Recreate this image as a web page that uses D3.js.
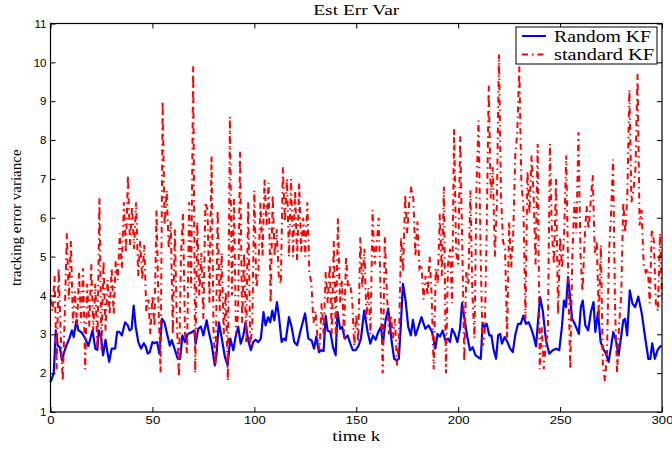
<!DOCTYPE html>
<html><head><meta charset="utf-8">
<script src="https://cdn.jsdelivr.net/npm/d3@7"></script>
<style>body{margin:0;background:#fff}</style>
</head><body><svg id="c" width="672" height="451"></svg>
<script>
const chartTitle = "Est Err Var";
const xLabel = "time k";
const yLabel = "tracking error variance";
const seriesNames = ["Random KF", "standard KF"];
const xTicks = [0, 50, 100, 150, 200, 250, 300];
const yTicks = [1, 2, 3, 4, 5, 6, 7, 8, 9, 10, 11];

// Random KF: time positions and values
const randomKF_t = [0,1.6,2.6,3.6,4.6,5.6,6.5,7.7,9.3,10.5,11.4,12.7,13.7,15,16.7,18.6,20.6,22,23,23.7,24.8,25.8,27,27.8,28.8,30,31.7,32.7,33.8,35,36.6,37.9,38.8,39.8,40.8,41.8,43.1,44.4,45.8,46.7,47.7,48.7,50,51,52.3,53.4,54.7,55.9,57.2,58.5,59.5,
61.1,62.4,63.6,64.7,66,67.3,69.2,70.5,71.2,72.5,73.8,75,76.6,77.7,79,80.6,81.5,82.6,83.9,85.6,86.9,88.2,89.7,90.8,92.1,93.3,94.6,95.7,97,98.3,99.5,100.6,101.9,103.2,104.5,105.5,106.8,107.8,108.8,109.8,111.1,112.1,113.4,114.4,115.4,117,118.3,119.6,
121,122.7,124.9,126.5,128.1,129.3,130.4,131.7,133,134,135,135.9,137.3,138.6,139.9,140.8,142.1,143.1,144.4,145.8,147.1,148.3,149.7,151,152.3,153.9,155.6,156.9,158.2,159.5,160.8,162.1,163.1,164.4,165.7,167.3,168.6,169.9,170.9,171.9,172.9,174.2,175.5,176.8,177.8,179.1,180.7,182,
183.9,185.5,187.2,188.8,189.9,191.1,192.4,193.7,195,196,197,198.3,199.6,200.9,201.9,203.2,204.5,205.8,207.1,208.5,209.8,211.1,212,213,214,215.3,216.3,217.3,218.6,219.6,220.6,221.5,222.8,224.2,225.5,226.8,228.1,229.4,230.7,232,233.3,234.6,235.9,236.9,238.2,239.2,240.2,241.5,
243.1,244.7,246.4,248,249.6,250.9,251.9,252.9,253.9,254.9,255.9,257.2,259.2,260.2,261.1,262.4,263.8,265.1,266.4,267.3,268.6,269.9,271.2,272.5,273.8,275.1,276.1,277.4,278.7,279.7,281,281.9,282.9,284.2,285.5,286.8,288.4,290.1,291.7,293.3,294.3,295.2,296.5,297.8,299.1,300];
const randomKF = [1.77,2.0,3.1,2.7,2.67,2.33,2.5,2.7,2.9,3.1,2.93,3.36,3.1,3.06,2.93,2.7,3.1,2.63,2.6,3.1,2.93,2.46,2.86,2.58,2.29,2.63,2.63,3.06,3.06,2.97,3.31,3.23,3.1,3.14,3.74,3.19,2.8,2.63,2.77,2.69,2.5,2.54,2.8,2.77,2.8,2.5,3.4,3.31,3.01,2.71,2.85,
2.59,2.37,2.37,2.97,2.8,3.01,3.05,3.1,2.76,3.14,3.2,2.97,3.36,3.05,2.76,2.2,2.5,3.31,2.93,2.41,2.2,2.89,2.59,2.93,3.19,2.76,2.97,3.31,2.84,2.59,2.8,2.86,2.8,2.89,3.57,3.23,3.44,3.31,3.61,3.36,3.83,3.44,2.8,2.89,2.84,3.44,3.19,2.8,
2.72,3.1,3.54,2.89,2.84,2.63,2.94,2.54,2.59,2.57,3.48,3.1,3.06,2.67,2.46,3.57,3.14,3.19,2.89,2.97,2.76,2.59,2.59,2.69,2.89,3.61,3.06,2.76,2.97,2.86,3.06,3.19,2.76,3.36,3.66,2.84,2.37,2.33,2.37,3.27,4.3,3.87,3.19,2.97,3.37,2.97,3.23,3.44,
3.14,3.23,3.06,2.63,3.01,2.94,3.1,2.84,2.89,2.8,3.14,3.01,2.8,3.14,3.8,3.36,2.93,2.59,2.67,2.46,2.41,2.37,3.27,3.19,3.27,2.97,2.97,2.63,2.37,2.97,3.01,2.76,2.93,2.8,2.63,2.54,3.01,3.27,3.27,3.48,3.27,3.31,3.14,2.97,2.69,3.36,3.96,3.61,
2.84,2.5,2.59,2.63,2.59,3.19,3.87,3.7,4.47,3.96,3.4,3.27,3.01,3.7,3.87,3.23,3.1,3.57,3.83,3.06,3.57,2.8,2.63,2.5,2.29,2.71,3.06,2.84,2.46,2.84,3.36,3.4,2.97,4.13,3.79,3.7,3.97,3.53,2.93,2.37,2.37,2.77,2.37,2.59,2.69,2.7];

// standard KF: one value per time step k = 0..300
const standardKF = [
3.9,3.6,4.5,2.1,4.7,3.0,1.8,3.5,5.6,3.9,
5.4,3.3,4.1,3.2,4.6,3.3,4.7,2.1,4.3,3.2,
4.8,3.1,4.3,2.6,6.5,2.6,4.9,3.1,4.4,3.5,
4.7,3.5,4.9,4.4,5.6,4.7,6.4,5.1,7.1,5.3,
6.3,5.2,6.4,4.5,5.4,4.4,5.3,3.6,3.9,3.0,
4.0,3.2,6.2,3.7,2.0,9.0,5.8,6.7,5.2,5.9,
3.0,5.7,3.3,1.9,5.0,6.1,3.0,2.5,6.4,4.2,
9.9,2.0,5.9,4.0,5.1,3.4,6.4,6.2,3.8,7.6,
3.0,2.2,6.2,3.6,5.1,3.0,4.1,1.8,8.6,4.0,
6.5,3.0,3.5,7.7,3.3,5.1,2.8,6.4,2.7,3.2,
6.7,4.2,4.6,6.4,5.0,7.0,5.8,6.9,3.8,6.6,
5.0,5.7,4.5,4.3,7.3,5.9,7.0,5.0,7.0,5.0,
6.7,4.9,6.9,5.1,6.0,5.0,6.4,4.6,4.3,3.3,
3.6,2.9,2.6,3.8,3.0,4.6,3.8,4.8,3.0,5.4,
2.9,6.0,3.8,4.4,2.9,5.0,4.2,4.3,3.9,2.7,
3.5,2.8,5.5,4.2,5.2,3.4,4.2,3.0,6.2,4.8,
5.3,6.0,4.0,2.0,5.5,4.1,3.0,3.5,2.9,3.4,
2.2,2.9,5.5,4.6,6.6,5.6,6.4,6.8,6.5,5.0,
5.9,4.7,4.8,3.9,4.5,4.0,5.0,4.0,2.1,4.7,
4.3,6.1,4.5,6.8,2.0,4.8,5.2,3.8,8.3,5.1,
4.8,8.1,5.3,2.3,4.6,4.3,6.7,4.0,2.9,6.8,
8.5,5.1,2.7,3.0,5.7,9.4,6.5,7.3,5.0,6.4,
10.2,6.6,5.4,5.2,2.9,5.9,4.7,5.6,7.6,8.2,
9.9,6.9,6.3,3.4,7.2,6.1,7.6,6.6,4.8,7.9,
2.1,3.2,2.1,2.8,3.0,7.9,5.6,4.8,7.0,3.5,
5.5,4.7,5.6,7.6,4.5,2.1,5.0,6.4,5.6,8.2,
5.1,4.1,5.4,6.3,5.7,6.4,7.1,5.1,5.4,3.4,
5.3,2.2,1.8,2.5,5.1,6.1,7.5,3.6,2.0,3.3,
4.0,6.4,5.6,6.6,9.3,6.4,6.7,7.3,9.7,5.8,
6.2,4.8,4.6,4.7,3.8,5.7,5.4,3.8,3.6,5.6,
3.9];

const svg = d3.select("#c");
const W = 672, H = 451;
const m = {l: 50.5, r: 662, t: 23.5, b: 412};
const x = d3.scaleLinear().domain([0, 300]).range([m.l, m.r]);
const y = d3.scaleLinear().domain([1, 11]).range([m.b, m.t]);
const serif = "'Liberation Serif','Times New Roman',serif";
const sans = "'Liberation Sans',Arial,Helvetica,sans-serif";
const redDash = "6,4,1.5,4";

svg.append("rect").attr("width", W).attr("height", H).attr("fill", "#fff");

const line = d3.line().x(d => x(d[0])).y(d => y(d[1]));

svg.append("path")
  .datum(randomKF_t.map((t, i) => [t, randomKF[i]]))
  .attr("d", line).attr("fill", "none")
  .attr("stroke", "#0000ff").attr("stroke-width", 2.2)
  .attr("stroke-linejoin", "round");

svg.append("path")
  .datum(standardKF.map((v, i) => [i, v]))
  .attr("d", line).attr("fill", "none")
  .attr("stroke", "#ff0000").attr("stroke-width", 2)
  .attr("stroke-dasharray", redDash);

function styleAxis(g, labels) {
  g.select(".domain").remove();
  g.selectAll(".tick line").attr("stroke", "#000");
  g.selectAll(".tick text").attr("font-family", sans).attr("font-size", 11.5).attr("fill", "#000");
  if (!labels) g.selectAll(".tick text").remove();
}

svg.append("g").attr("transform", `translate(0,${m.b})`)
  .call(d3.axisBottom(x).tickValues(xTicks).tickSizeInner(-5).tickSizeOuter(0).tickPadding(4))
  .call(g => styleAxis(g, true))
  .call(g => g.selectAll(".tick text").attr("textLength", d => String(d).length * 7.3).attr("lengthAdjust", "spacingAndGlyphs"));
svg.append("g").attr("transform", `translate(0,${m.t})`)
  .call(d3.axisTop(x).tickValues(xTicks).tickSizeInner(-5).tickSizeOuter(0))
  .call(g => styleAxis(g, false));
svg.append("g").attr("transform", `translate(${m.l},0)`)
  .call(d3.axisLeft(y).tickValues(yTicks).tickSizeInner(-5).tickSizeOuter(0).tickPadding(4))
  .call(g => styleAxis(g, true));
svg.append("g").attr("transform", `translate(${m.r},0)`)
  .call(d3.axisRight(y).tickValues(yTicks).tickSizeInner(-5).tickSizeOuter(0))
  .call(g => styleAxis(g, false));

svg.append("rect").attr("x", m.l).attr("y", m.t)
  .attr("width", m.r - m.l).attr("height", m.b - m.t)
  .attr("fill", "none").attr("stroke", "#000").attr("stroke-width", 1.2);

svg.append("text").attr("x", (m.l + m.r) / 2).attr("y", 15)
  .attr("text-anchor", "middle").attr("font-family", serif).attr("font-size", 14.5)
  .attr("textLength", 86).attr("lengthAdjust", "spacingAndGlyphs")
  .text(chartTitle);
svg.append("text").attr("x", (m.l + m.r) / 2).attr("y", 441)
  .attr("text-anchor", "middle").attr("font-family", serif).attr("font-size", 15)
  .attr("textLength", 48).attr("lengthAdjust", "spacingAndGlyphs")
  .text(xLabel);
svg.append("text").attr("transform", `translate(21,${(m.t + m.b) / 2}) rotate(-90)`)
  .attr("text-anchor", "middle").attr("font-family", serif).attr("font-size", 15)
  .text(yLabel);

// legend
const lg = svg.append("g");
lg.append("rect").attr("x", 516).attr("y", 27).attr("width", 141).attr("height", 37)
  .attr("fill", "#fff").attr("stroke", "#000").attr("stroke-width", 1);
const colors = ["#0000ff", "#ff0000"];
const dashes = [null, redDash];
const legendWidths = [97, 100];
seriesNames.forEach((name, i) => {
  const yy = 36 + i * 18.5;
  lg.append("line").attr("x1", 522).attr("x2", 546).attr("y1", yy).attr("y2", yy)
    .attr("stroke", colors[i]).attr("stroke-width", 2).attr("stroke-dasharray", dashes[i]);
  lg.append("text").attr("x", 554).attr("y", yy).attr("dy", "0.33em")
    .attr("font-family", serif).attr("font-size", 17)
    .attr("textLength", legendWidths[i]).attr("lengthAdjust", "spacingAndGlyphs")
    .text(name);
});
</script></body></html>
